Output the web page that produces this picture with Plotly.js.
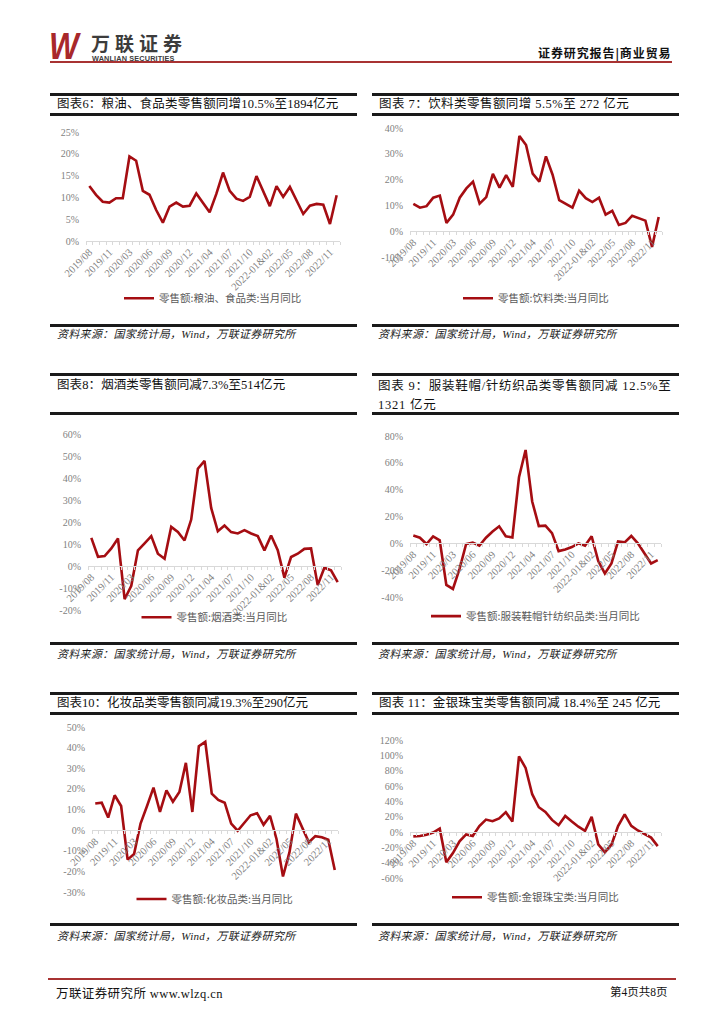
<!DOCTYPE html>
<html>
<head>
<meta charset="utf-8">
<script src="https://cdn.plot.ly/plotly-3.0.1.min.js"></script>
<style>
  html, body { margin:0; padding:0; background:#fff; }
  body { width:724px; height:1024px; position:relative; overflow:hidden; font-family:"Liberation Serif","Noto Sans CJK SC",serif; }
  .abs { position:absolute; }
  .hline { position:absolute; height:2.5px; background:#1a1a1a; }
  .title { position:absolute; font-size:12.5px; color:#111; white-space:nowrap; font-family:"Liberation Serif","Noto Sans CJK SC",serif; line-height:16px; }
  .src { position:absolute; font-size:11px; color:#222; font-style:italic; white-space:nowrap; font-family:"Liberation Serif","Noto Sans CJK SC",serif; line-height:13px; }
  .chart { position:absolute; }
</style>
</head>
<body>
<!-- header -->
<div class="abs" style="left:49px;top:29px;font-family:'Liberation Sans',sans-serif;font-weight:bold;font-style:italic;font-size:37px;color:#a8282b;line-height:36px;transform:scaleX(0.85);transform-origin:left top;letter-spacing:-2px;">W</div>
<div class="abs" style="left:91px;top:33px;font-family:'Noto Sans CJK SC',sans-serif;font-weight:bold;font-size:19px;color:#3c3c3c;line-height:19px;letter-spacing:5px;">万联证券</div>
<div class="abs" style="left:92px;top:55px;font-family:'Liberation Sans',sans-serif;font-weight:bold;font-size:7.3px;color:#3c3c3c;line-height:7px;letter-spacing:0.15px;">WANLIAN SECURITIES</div>
<div class="abs" style="left:538px;top:45px;font-family:'Noto Sans CJK SC',sans-serif;font-weight:bold;font-size:12px;color:#111;line-height:15px;letter-spacing:0.9px;">证券研究报告|商业贸易</div>
<div class="abs" style="left:50px;top:61px;width:622px;height:2px;background:#a83232;"></div>

<!-- row 1 frames -->
<div class="hline" style="left:50px;top:93px;width:307px;"></div>
<div class="hline" style="left:50px;top:113px;width:307px;"></div>
<div class="hline" style="left:372px;top:93px;width:307px;"></div>
<div class="hline" style="left:372px;top:113px;width:307px;"></div>
<div class="title" id="t6" style="left:57px;top:96px;letter-spacing:0.2px;"></div>
<div class="title" id="t7" style="left:379px;top:96px;letter-spacing:0.45px;"></div>
<div class="hline" style="left:50px;top:324px;width:307px;"></div>
<div class="hline" style="left:372px;top:324px;width:307px;"></div>
<div class="src" style="left:57px;top:328px;letter-spacing:0.3px;">资料来源：国家统计局，Wind，万联证券研究所</div>
<div class="src" style="left:378px;top:328px;letter-spacing:0.3px;">资料来源：国家统计局，Wind，万联证券研究所</div>

<!-- row 2 frames -->
<div class="hline" style="left:50px;top:373px;width:307px;"></div>
<div class="hline" style="left:50px;top:412px;width:307px;"></div>
<div class="hline" style="left:372px;top:373px;width:307px;"></div>
<div class="hline" style="left:372px;top:412px;width:307px;"></div>
<div class="title" id="t8" style="left:57px;top:377px;letter-spacing:0.1px;"></div>
<div class="title" id="t9" style="left:378px;top:377px;line-height:19px;letter-spacing:0.75px;"></div>
<div class="hline" style="left:50px;top:642px;width:307px;"></div>
<div class="hline" style="left:372px;top:642px;width:307px;"></div>
<div class="src" style="left:57px;top:648px;letter-spacing:0.3px;">资料来源：国家统计局，Wind，万联证券研究所</div>
<div class="src" style="left:378px;top:648px;letter-spacing:0.3px;">资料来源：国家统计局，Wind，万联证券研究所</div>

<!-- row 3 frames -->
<div class="hline" style="left:50px;top:692px;width:307px;"></div>
<div class="hline" style="left:50px;top:712px;width:307px;"></div>
<div class="hline" style="left:372px;top:692px;width:307px;"></div>
<div class="hline" style="left:372px;top:712px;width:307px;"></div>
<div class="title" id="t10" style="left:57px;top:695px;"></div>
<div class="title" id="t11" style="left:379px;top:695px;letter-spacing:0.2px;"></div>
<div class="hline" style="left:50px;top:923px;width:307px;"></div>
<div class="hline" style="left:372px;top:923px;width:307px;"></div>
<div class="src" style="left:57px;top:930px;letter-spacing:0.3px;">资料来源：国家统计局，Wind，万联证券研究所</div>
<div class="src" style="left:378px;top:930px;letter-spacing:0.3px;">资料来源：国家统计局，Wind，万联证券研究所</div>

<!-- charts -->
<div class="chart" id="c6"></div>
<div class="chart" id="c7"></div>
<div class="chart" id="c8"></div>
<div class="chart" id="c9"></div>
<div class="chart" id="c10"></div>
<div class="chart" id="c11"></div>

<!-- footer -->
<div class="abs" style="left:48px;top:978px;width:628px;height:2px;background:#a83232;"></div>
<div class="abs" style="left:56px;top:983px;font-size:12.5px;color:#111;font-family:'Liberation Serif','Noto Sans CJK SC',serif;letter-spacing:0.4px;">万联证券研究所 www.wlzq.cn</div>
<div class="abs" style="left:610px;top:983px;font-size:11.5px;color:#111;font-family:'Liberation Serif','Noto Sans CJK SC',serif;">第4页共8页</div>

<script>
// ---------- data ----------
const categories = ['2019/08','2019/09','2019/10','2019/11','2019/12','2020-01&02','2020/03','2020/04','2020/05','2020/06','2020/07','2020/08','2020/09','2020/10','2020/11','2020/12','2021-01&02','2021/03','2021/04','2021/05','2021/06','2021/07','2021/08','2021/09','2021/10','2021/11','2021/12','2022-01&02','2022/03','2022/04','2022/05','2022/06','2022/07','2022/08','2022/09','2022/10','2022/11','2022/12'];
const tickLabels = ['2019/08','2019/11','2020/03','2020/06','2020/09','2020/12','2021/04','2021/07','2021/10','2022-01&02','2022/05','2022/08','2022/11'];

const grainFood = [12.6,10.6,9.0,8.8,9.8,9.8,19.4,18.4,11.5,10.6,7.1,4.2,7.9,8.8,7.9,8.1,10.9,8.6,6.6,10.8,15.7,11.5,9.7,9.2,10.1,14.9,11.5,8.0,12.6,10.1,12.4,9.3,6.2,8.1,8.5,8.3,3.9,10.5];
const beverage = [10.6,9.1,9.7,13.0,13.8,3.2,6.4,13.0,16.6,19.2,10.7,13.2,22.2,16.9,21.7,17.2,36.9,33.4,22.3,19.2,29.0,21.9,12.0,10.5,9.1,15.7,12.8,11.3,13.0,6.4,7.9,2.4,3.2,6.0,5.1,4.1,-6.1,5.5];
const tobaccoLiquor = [12.8,4.2,4.5,8.0,12.5,-15.1,-9.0,7.1,10.3,13.6,5.6,3.3,17.8,15.5,11.6,21.1,44.2,47.8,26.4,15.8,18.4,15.4,14.8,16.3,14.8,13.6,7.1,13.9,7.2,-5.3,4.1,5.6,7.8,8.0,-8.7,-0.8,-2.0,-7.3];
const apparel = [5.8,4.2,-0.5,5.1,2.3,-31.0,-34.0,-19.0,-0.5,0.5,-1.8,4.2,8.8,12.7,5.3,4.4,49.2,69.6,31.2,12.9,13.2,7.6,-5.8,-4.6,-2.8,0.0,-1.8,5.3,-13.2,-22.4,-15.0,1.4,0.7,5.5,0.0,-7.4,-15.0,-12.5];
const cosmetics = [12.9,13.3,6.1,16.9,11.7,-14.3,-11.6,3.2,11.7,20.6,8.8,19.3,13.8,18.5,32.6,8.8,40.7,42.8,17.7,14.6,13.3,3.2,-0.3,3.7,7.2,8.2,2.6,6.9,-4.3,-22.5,-10.8,8.0,1.0,-5.9,-2.9,-3.5,-4.7,-19.3];
const jewelry = [-5.7,-5.3,-3.6,-0.8,4.4,-39.6,-27.5,-12.1,-3.2,-5.3,7.7,16.2,14.1,17.8,25.9,13.7,98.6,83.6,49.3,32.3,26.3,15.8,8.9,21.0,13.7,6.9,1.6,19.8,-16.2,-26.3,-16.6,7.7,23.0,8.1,2.0,-2.4,-7.3,-18.4];

const titles = {
  t6: '图表6：粮油、食品类零售额同增10.5%至1894亿元',
  t7: '图表 7：饮料类零售额同增 5.5%至 272 亿元',
  t8: '图表8：烟酒类零售额同减7.3%至514亿元',
  t9: '图表 9：服装鞋帽/针纺织品类零售额同减 12.5%至<br>1321 亿元',
  t10: '图表10：化妆品类零售额同减19.3%至290亿元',
  t11: '图表 11：金银珠宝类零售额同减 18.4%至 245 亿元'
};
const legendNames = {
  c6: '零售额:粮油、食品类:当月同比',
  c7: '零售额:饮料类:当月同比',
  c8: '零售额:烟酒类:当月同比',
  c9: '零售额:服装鞋帽针纺织品类:当月同比',
  c10: '零售额:化妆品类:当月同比',
  c11: '零售额:金银珠宝类:当月同比'
};

for (const k in titles) document.getElementById(k).innerHTML = titles[k];

// ---------- chart builder ----------
const LINE = '#a50d12';
const GRAY = '#7f7f7f';
function draw(id, values, box, yr, dtick, legendY) {
  const el = document.getElementById(id);
  el.style.left = box.left + 'px';
  el.style.top = box.top + 'px';
  el.style.width = box.w + 'px';
  el.style.height = box.h + 'px';
  const idx = categories.map((c, i) => i);
  const tickvals = tickLabels.map(t => categories.indexOf(t));
  const axisPos = (0 - yr[0]) / (yr[1] - yr[0]);
  const ticks = [];
  for (let v = yr[0]; v <= yr[1] + 1e-9; v += dtick) ticks.push(v);
  Plotly.newPlot(el, [{
    x: idx, y: values, type: 'scatter', mode: 'lines',
    name: legendNames[id],
    line: { color: LINE, width: 2.6 },
    cliponaxis: false
  }], {
    width: box.w, height: box.h,
    margin: box.m,
    paper_bgcolor: 'rgba(0,0,0,0)', plot_bgcolor: 'rgba(0,0,0,0)',
    showlegend: true,
    legend: {
      orientation: 'h', x: 0.5, xanchor: 'center', y: legendY, yanchor: 'middle',
      font: { family: 'Noto Sans CJK SC, sans-serif', size: 10.5, color: '#595959' },
      itemwidth: 30
    },
    xaxis: {
      range: [-0.5, categories.length - 0.5],
      anchor: 'free', position: axisPos,
      tickmode: 'array', tickvals: tickvals, ticktext: tickLabels,
      tickangle: -45, ticks: '',
      tickfont: { family: 'Liberation Serif, serif', size: 10.5, color: GRAY },
      showline: true, linecolor: '#d9d9d9', linewidth: 1,
      showgrid: false, zeroline: false,
      minor: { tickmode: 'linear', tick0: -0.5, dtick: 1, ticks: 'outside', ticklen: 3, tickcolor: '#d9d9d9', showgrid: false },
      fixedrange: true
    },
    yaxis: {
      range: yr, tickmode: 'array', tickvals: ticks, ticktext: ticks.map(v => Math.round(v) + '%'),
      tickfont: { family: 'Liberation Serif, serif', size: 10, color: GRAY },
      showgrid: false, zeroline: false, showline: false, ticks: '',
      ticklabelstandoff: 6,
      fixedrange: true
    }
  }, { staticPlot: true, displayModeBar: false });
}

draw('c6', grainFood,     { left:50,  top:115, w:310, h:210, m:{l:36, r:20, t:16.7, b:79} },  [0, 25],   5,  -0.525);
draw('c7', beverage,      { left:372, top:115, w:308, h:210, m:{l:38, r:18, t:13.3, b:63} },  [-10, 40], 10, -0.32);
draw('c8', tobaccoLiquor, { left:50,  top:414, w:310, h:229, m:{l:38.4, r:19, t:20, b:32.3} }, [-20, 60], 10, -0.035);
draw('c9', apparel,       { left:372, top:414, w:308, h:229, m:{l:38, r:18.7, t:21.7, b:34.3} }, [-40, 80], 20, -0.119);
draw('c10', cosmetics,    { left:50,  top:714, w:310, h:210, m:{l:41.8, r:21.8, t:13, b:31} }, [-30, 50], 10, -0.036);
draw('c11', jewelry,      { left:372, top:714, w:308, h:210, m:{l:38, r:18.7, t:26, b:35.7} }, [-60, 120], 20, -0.14);
</script>
</body>
</html>
